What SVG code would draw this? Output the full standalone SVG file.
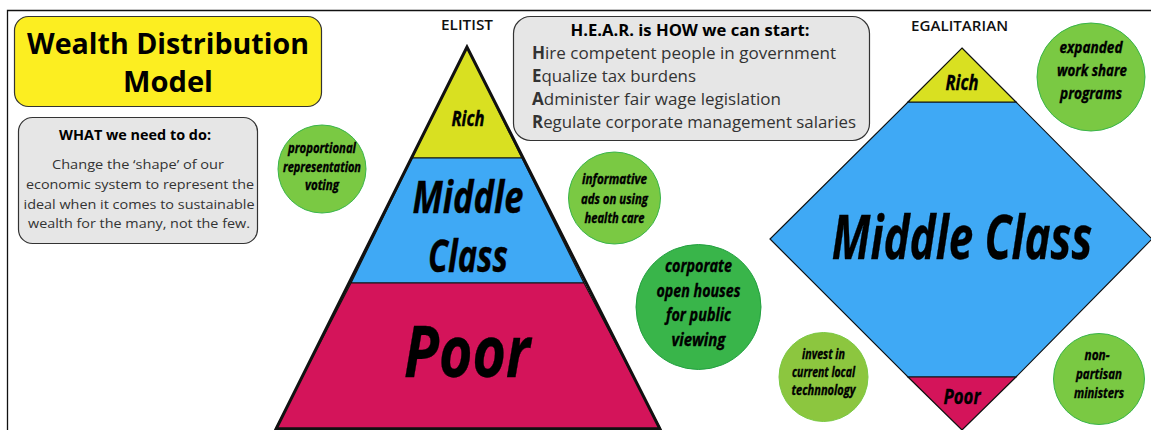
<svg xmlns="http://www.w3.org/2000/svg" width="1151" height="430" viewBox="0 0 1151 430">
<style>
text{font-family:"Open Sans","Noto Sans","Liberation Sans",sans-serif;text-anchor:middle;fill:#000}
.box{stroke:#333;stroke-width:1.2}
.gray{fill:#e6e6e6}
.heading{font-weight:700}
.body{fill:#333;font-size:13.5px}
.hear{fill:#333;font-size:17px;text-anchor:start}
.hear tspan{font-weight:700}
.cap{font-size:13.5px;font-weight:600;fill:#111}
.it{font-weight:700;font-style:italic;stroke:#000;stroke-width:.35}
.band{stroke:#111;stroke-width:1.2}
.edge{fill:none;stroke:#111;stroke-width:3;stroke-linejoin:miter}
.c1{fill:#7ac943;stroke:#39b54a}
.c2{fill:#39b54a;stroke:#22a040}
.c3{fill:#8cc63f;stroke:#7ac943}
</style>
<g id="frame" fill="none" stroke="#111" stroke-width="1.3"><path d="M7.5 430V10.500H1151"/></g>
<g id="title"><rect class="box" x="14.500" y="16.500" width="307" height="90" rx="14" fill="#fcee21"/>
<text class="heading" x="168" y="54" font-size="29" textLength="282" lengthAdjust="spacingAndGlyphs">Wealth Distribution</text>
<text class="heading" x="168" y="92" font-size="29" textLength="90" lengthAdjust="spacingAndGlyphs">Model</text></g>
<g id="what"><rect class="box gray" x="18.500" y="117.500" width="239" height="126" rx="14"/>
<text class="heading" x="135" y="140" font-size="14" textLength="152" lengthAdjust="spacingAndGlyphs">WHAT we need to do:</text>
<text class="body" x="138" y="169" textLength="172" lengthAdjust="spacingAndGlyphs">Change the ‘shape’  of our</text>
<text class="body" x="140" y="189" textLength="228" lengthAdjust="spacingAndGlyphs">economic system to represent the</text>
<text class="body" x="139" y="209" textLength="231" lengthAdjust="spacingAndGlyphs">ideal when it comes to sustainable</text>
<text class="body" x="139" y="228" textLength="222" lengthAdjust="spacingAndGlyphs">wealth for the many, not the few.</text></g>
<g id="hear"><rect class="box gray" x="513.500" y="16.500" width="356" height="124" rx="17"/>
<text class="heading" x="690" y="36" font-size="16" textLength="239" lengthAdjust="spacingAndGlyphs">H.E.A.R. is HOW we can start:</text>
<text class="hear" x="532" y="59" textLength="304" lengthAdjust="spacingAndGlyphs"><tspan>H</tspan>ire competent people in government</text>
<text class="hear" x="532" y="82" textLength="164" lengthAdjust="spacingAndGlyphs"><tspan>E</tspan>qualize tax burdens</text>
<text class="hear" x="532" y="105" textLength="249" lengthAdjust="spacingAndGlyphs"><tspan>A</tspan>dminister fair wage legislation</text>
<text class="hear" x="532" y="128" textLength="324" lengthAdjust="spacingAndGlyphs"><tspan>R</tspan>egulate corporate management salaries</text></g>
<g id="elitist-label"><text class="cap" x="467" y="30" textLength="52" lengthAdjust="spacingAndGlyphs">ELITIST</text></g>
<g id="egalitarian-label"><text class="cap" x="959.500" y="31" textLength="97" lengthAdjust="spacingAndGlyphs">EGALITARIAN</text></g>
<g id="elitist-rich"><path class="band" d="M467 47L522 158H412Z" fill="#d9e021"/>
<text class="it" x="468" y="126" font-size="22" textLength="33" lengthAdjust="spacingAndGlyphs">Rich</text></g>
<g id="elitist-middle"><path class="band" d="M412 158H522L584 283H351Z" fill="#3fa9f5"/>
<text class="it" x="468" y="213" font-size="44" textLength="111" lengthAdjust="spacingAndGlyphs">Middle</text>
<text class="it" x="468" y="272" font-size="44" textLength="80" lengthAdjust="spacingAndGlyphs">Class</text></g>
<g id="elitist-poor"><path class="band" d="M351 283H584L660 428H276Z" fill="#d4145a"/>
<text class="it" x="467" y="377" font-size="72" textLength="126" lengthAdjust="spacingAndGlyphs">Poor</text></g>
<g id="egalitarian-middle"><path class="band" d="M908 102H1016L1152 239L1016 377H908L770 239Z" fill="#3fa9f5"/>
<text class="it" transform="translate(962 259) scale(.72 1)" font-size="61">Middle Class</text></g>
<g id="egalitarian-rich"><path class="band" d="M962 48L1016 102H908Z" fill="#d9e021"/>
<text class="it" x="962" y="90" font-size="22" textLength="33" lengthAdjust="spacingAndGlyphs">Rich</text></g>
<g id="egalitarian-poor"><path class="band" d="M908 377H1016L962 430Z" fill="#d4145a"/>
<text class="it" x="962" y="404" font-size="22" textLength="37" lengthAdjust="spacingAndGlyphs">Poor</text></g>
<g id="connectors"><path class="edge" d="M467 47L276 429H660Z"/></g>
<g id="c-proportional"><circle class="c1" cx="322" cy="169" r="44"/>
<text class="it" x="322" y="153" font-size="14" textLength="68" lengthAdjust="spacingAndGlyphs">proportional</text>
<text class="it" x="322" y="172" font-size="14" textLength="78" lengthAdjust="spacingAndGlyphs">representation</text>
<text class="it" x="322" y="190" font-size="14" textLength="34" lengthAdjust="spacingAndGlyphs">voting</text></g>
<g id="c-informative"><circle class="c1" cx="614.500" cy="198" r="46"/>
<text class="it" x="614.500" y="184" font-size="14" textLength="65" lengthAdjust="spacingAndGlyphs">informative</text>
<text class="it" x="614.500" y="204" font-size="14" textLength="67" lengthAdjust="spacingAndGlyphs">ads on using</text>
<text class="it" x="614.500" y="223" font-size="14" textLength="60" lengthAdjust="spacingAndGlyphs">health care</text></g>
<g id="c-corporate"><circle class="c2" cx="698.500" cy="307" r="62.500"/>
<text class="it" x="698.500" y="272" font-size="18" textLength="67" lengthAdjust="spacingAndGlyphs">corporate</text>
<text class="it" x="698.500" y="297" font-size="18" textLength="84" lengthAdjust="spacingAndGlyphs">open houses</text>
<text class="it" x="698.500" y="321" font-size="18" textLength="65" lengthAdjust="spacingAndGlyphs">for public</text>
<text class="it" x="698.500" y="346" font-size="18" textLength="54" lengthAdjust="spacingAndGlyphs">viewing</text></g>
<g id="c-invest"><circle class="c3" cx="823.500" cy="377" r="44.500"/>
<text class="it" x="823.500" y="359" font-size="14" textLength="43" lengthAdjust="spacingAndGlyphs">invest in</text>
<text class="it" x="823.500" y="377" font-size="14" textLength="63" lengthAdjust="spacingAndGlyphs">current local</text>
<text class="it" x="823.500" y="395" font-size="14" textLength="64" lengthAdjust="spacingAndGlyphs">technnology</text></g>
<g id="c-nonpartisan"><circle class="c1" cx="1099" cy="379" r="45.500"/>
<text class="it" x="1097" y="360" font-size="14" textLength="25" lengthAdjust="spacingAndGlyphs">non-</text>
<text class="it" x="1099" y="379" font-size="14" textLength="46" lengthAdjust="spacingAndGlyphs">partisan</text>
<text class="it" x="1099" y="398" font-size="14" textLength="50" lengthAdjust="spacingAndGlyphs">ministers</text></g>
<g id="c-expanded"><circle class="c1" cx="1091" cy="77" r="54"/>
<text class="it" x="1091" y="53" font-size="16" textLength="63" lengthAdjust="spacingAndGlyphs">expanded</text>
<text class="it" x="1092" y="76" font-size="16" textLength="70" lengthAdjust="spacingAndGlyphs">work share</text>
<text class="it" x="1091" y="99" font-size="16" textLength="62" lengthAdjust="spacingAndGlyphs">programs</text></g>
</svg>
